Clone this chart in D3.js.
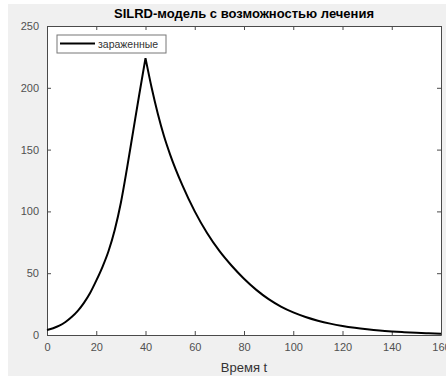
<!DOCTYPE html>
<html>
<head>
<meta charset="utf-8">
<script src="https://cdn.jsdelivr.net/npm/d3@7/dist/d3.min.js"></script>
<style>
  html, body { margin: 0; padding: 0; background: #ffffff; }
  svg { display: block; }
  text { font-family: "Liberation Sans", Arial, sans-serif; }
</style>
</head>
<body>
<svg id="chart" width="446" height="376"></svg>
<script>
// Time grid and infected counts of the SILRD model with treatment
const times = [0, 2.5, 5, 7.5, 10, 12.5, 15, 17.5, 20, 22.5, 25, 27.5, 30, 32.5, 35, 37.5, 40,
               42.5, 45, 47.5, 50, 55, 60, 65, 70, 75, 80, 85, 90, 95, 100,
               105, 110, 115, 120, 125, 130, 135, 140, 145, 150, 155, 160];
const infected = [4, 5.5, 7.5, 10.5, 14.5, 19.5, 26, 34, 44, 55, 68, 85, 107, 135, 165, 195, 224,
                  200, 179, 161, 146, 121, 100, 82.5, 68, 56, 45.5, 36.5, 29, 23, 18.3,
                  14.6, 11.6, 9.2, 7.3, 5.8, 4.6, 3.6, 2.85, 2.25, 1.75, 1.35, 1.05];
const xTicks = [0, 20, 40, 60, 80, 100, 120, 140, 160];
const yTicks = [0, 50, 100, 150, 200, 250];
const seriesName = "зараженные";
const titleText = "SILRD-модель с возможностью лечения";
const xLabelText = "Время t";

const svg = d3.select("#chart");
const W = 446, H = 376;
const m = { left: 47, right: 5, top: 26, bottom: 41 };
const axisColor = "#4a4a4a";
const textColor = "#505050";

// figure background
svg.append("rect").attr("x", 8).attr("y", 4).attr("width", W - 8).attr("height", H - 4)
  .attr("fill", "#f0f0f0");

const x = d3.scaleLinear().domain([0, 160]).range([m.left, W - m.right]);
const y = d3.scaleLinear().domain([0, 250]).range([H - m.bottom, m.top]);

// plot area
svg.append("rect")
  .attr("x", x(0)).attr("y", y(250))
  .attr("width", x(160) - x(0)).attr("height", y(0) - y(250))
  .attr("fill", "#ffffff");

const tickLen = 4;
const gAx = svg.append("g");

// bottom axis with inward ticks
const bottom = d3.axisBottom(x).tickValues(xTicks).tickSizeInner(-tickLen).tickSizeOuter(0).tickPadding(8);
gAx.append("g").attr("transform", `translate(0,${y(0)})`).call(bottom);
// top mirror
gAx.append("g").attr("transform", `translate(0,${y(250)})`)
  .call(d3.axisTop(x).tickValues(xTicks).tickSizeInner(-tickLen).tickSizeOuter(0).tickFormat(""));
// left axis
gAx.append("g").attr("transform", `translate(${x(0)},0)`)
  .call(d3.axisLeft(y).tickValues(yTicks).tickSizeInner(-tickLen).tickSizeOuter(0).tickPadding(8));
// right mirror
gAx.append("g").attr("transform", `translate(${x(160)},0)`)
  .call(d3.axisRight(y).tickValues(yTicks).tickSizeInner(-tickLen).tickSizeOuter(0).tickFormat(""));

gAx.selectAll(".domain").attr("stroke", axisColor).attr("stroke-width", 1);
gAx.selectAll(".tick line").attr("stroke", axisColor).attr("stroke-width", 1);
gAx.selectAll(".tick text").attr("fill", textColor).attr("font-size", 11)
  .attr("font-family", "Liberation Sans, Arial, sans-serif");

// infected curve: rising and falling branches joined at the sharp peak
const pts = times.map((t, i) => [t, infected[i]]);
const peak = d3.maxIndex(infected);
const line = d3.line().x(d => x(d[0])).y(d => y(d[1])).curve(d3.curveMonotoneX);
const pathD = line(pts.slice(0, peak + 1)) + line(pts.slice(peak)).replace(/^M/, "L");
svg.append("path").attr("d", pathD)
  .attr("fill", "none").attr("stroke", "#000").attr("stroke-width", 2)
  .attr("stroke-linejoin", "miter");

// title and axis label
svg.append("text").attr("x", (x(0) + x(160)) / 2).attr("y", 18)
  .attr("text-anchor", "middle").attr("font-size", 13).attr("font-weight", "bold")
  .attr("fill", "#000").text(titleText);
svg.append("text").attr("x", (x(0) + x(160)) / 2).attr("y", 372)
  .attr("text-anchor", "middle").attr("font-size", 13)
  .attr("fill", "#333").text(xLabelText);

// legend
const lg = svg.append("g").attr("transform", "translate(57,35)");
lg.append("rect").attr("width", 109).attr("height", 18)
  .attr("fill", "#fff").attr("stroke", "#777").attr("stroke-width", 1);
lg.append("line").attr("x1", 3).attr("x2", 38).attr("y1", 8.5).attr("y2", 8.5)
  .attr("stroke", "#000").attr("stroke-width", 2);
lg.append("text").attr("x", 41).attr("y", 12.5).attr("font-size", 10.5)
  .attr("fill", "#333").text(seriesName);
</script>
</body>
</html>
